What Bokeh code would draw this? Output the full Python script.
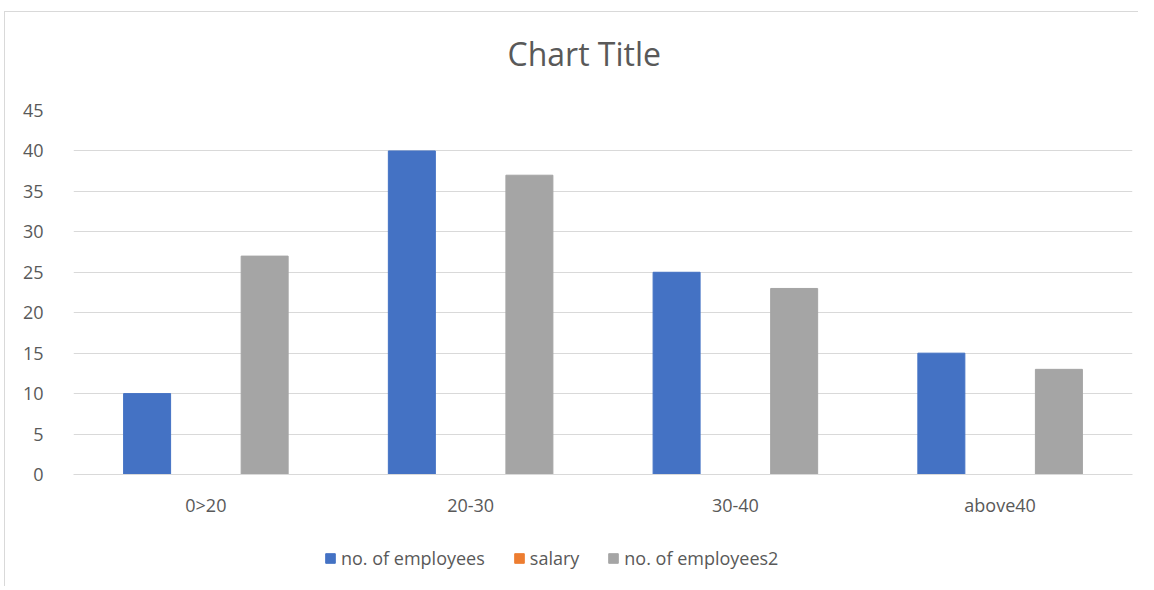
from bokeh.plotting import figure
from bokeh.layouts import column
from bokeh.models import ColumnDataSource, Legend, LegendItem, FactorRange, Range1d, SingleIntervalTicker
from bokeh.transform import dodge
from bokeh.embed import file_html
from bokeh.resources import INLINE

categories = ["0>20", "20-30", "30-40", "above40"]
employees = [10, 40, 25, 15]
salary = [0, 0, 0, 0]
employees2 = [27, 37, 23, 13]
series_names = ["no. of employees", "salary", "no. of employees2"]
series_cols = ["emp", "sal", "emp2"]
series_colors = ["#4472C4", "#ED7D31", "#A5A5A5"]
chart_title = "Chart Title"

src = ColumnDataSource(dict(cat=categories, emp=employees, sal=salary, emp2=employees2))

FONT = "Open Sans"
TXT = "#595959"
GRID = "#D9D9D9"


def blank(fig):
    fig.outline_line_color = None
    fig.xgrid.grid_line_color = None
    fig.ygrid.grid_line_color = None


# title strip
p0 = figure(width=1133, height=84, x_range=Range1d(0, 1), y_range=Range1d(0, 1),
            output_backend="svg", toolbar_location=None, title=chart_title,
            x_axis_location=None, y_axis_location=None,
            min_border_left=0, min_border_right=0, min_border_top=0, min_border_bottom=0)
blank(p0)
p0.title.align = "left"
p0.title.offset = 434
p0.title.text_font = FONT
p0.title.text_font_size = "32px"
p0.title.text_font_style = "normal"
p0.title.text_color = TXT
p0.title.standoff = 34

# main chart
p = figure(width=1133, height=424, x_range=FactorRange(*categories, range_padding=0),
           y_range=Range1d(0, 45), output_backend="svg", toolbar_location=None,
           min_border_left=68, min_border_right=6, min_border_top=14, min_border_bottom=46)

bw = 0.1775
off = 0.222
for col, color, dx in zip(series_cols, series_colors, [-off, 0, off]):
    p.vbar(x=dodge("cat", dx, range=p.x_range), top=col, width=bw, source=src,
           fill_color=color, line_color=color)

p.outline_line_color = None
p.xgrid.grid_line_color = None
p.ygrid.grid_line_color = GRID
p.yaxis.ticker = SingleIntervalTicker(interval=5)
p.yaxis.axis_line_color = None
p.yaxis.major_tick_line_color = None
p.yaxis.minor_tick_line_color = None
p.yaxis.major_label_text_font = FONT
p.yaxis.major_label_text_font_size = "18px"
p.yaxis.major_label_text_color = TXT
p.yaxis.major_label_standoff = 24

p.xaxis.axis_line_color = GRID
p.xaxis.major_tick_line_color = None
p.xaxis.minor_tick_line_color = None
p.xaxis.major_label_text_font = FONT
p.xaxis.major_label_text_font_size = "18px"
p.xaxis.major_label_text_color = TXT
p.xaxis.major_label_standoff = 12

# legend strip (its bars lie far outside its own visible range; only the legend shows)
p2 = figure(width=1133, height=66, x_range=FactorRange(*categories), y_range=Range1d(100, 200),
            output_backend="svg", toolbar_location=None,
            x_axis_location=None, y_axis_location=None,
            min_border_left=0, min_border_right=0, min_border_top=0, min_border_bottom=0)
blank(p2)
items = []
for name, col, color in zip(series_names, series_cols, series_colors):
    r = p2.vbar(x=dodge("cat", 50, range=p2.x_range), top=col, width=0.1, source=src,
                fill_color=color, line_color=color)
    items.append(LegendItem(label=name, renderers=[r]))

legend = Legend(items=items, orientation="horizontal", location=(251, 16))
legend.label_text_font = FONT
legend.label_text_font_size = "18px"
legend.label_text_color = TXT
legend.glyph_width = 12
legend.glyph_height = 12
legend.spacing = 28
legend.label_standoff = 5
legend.padding = 0
legend.margin = 0
legend.border_line_color = None
legend.background_fill_alpha = 0
p2.add_layout(legend, "center")

layout = column(p0, p, p2, spacing=0,
                styles={"margin-left": "4px", "margin-top": "11px",
                        "border-left": "1px solid #D9D9D9", "border-top": "1px solid #D9D9D9"})

open("out.html", "w").write(file_html(layout, INLINE))
